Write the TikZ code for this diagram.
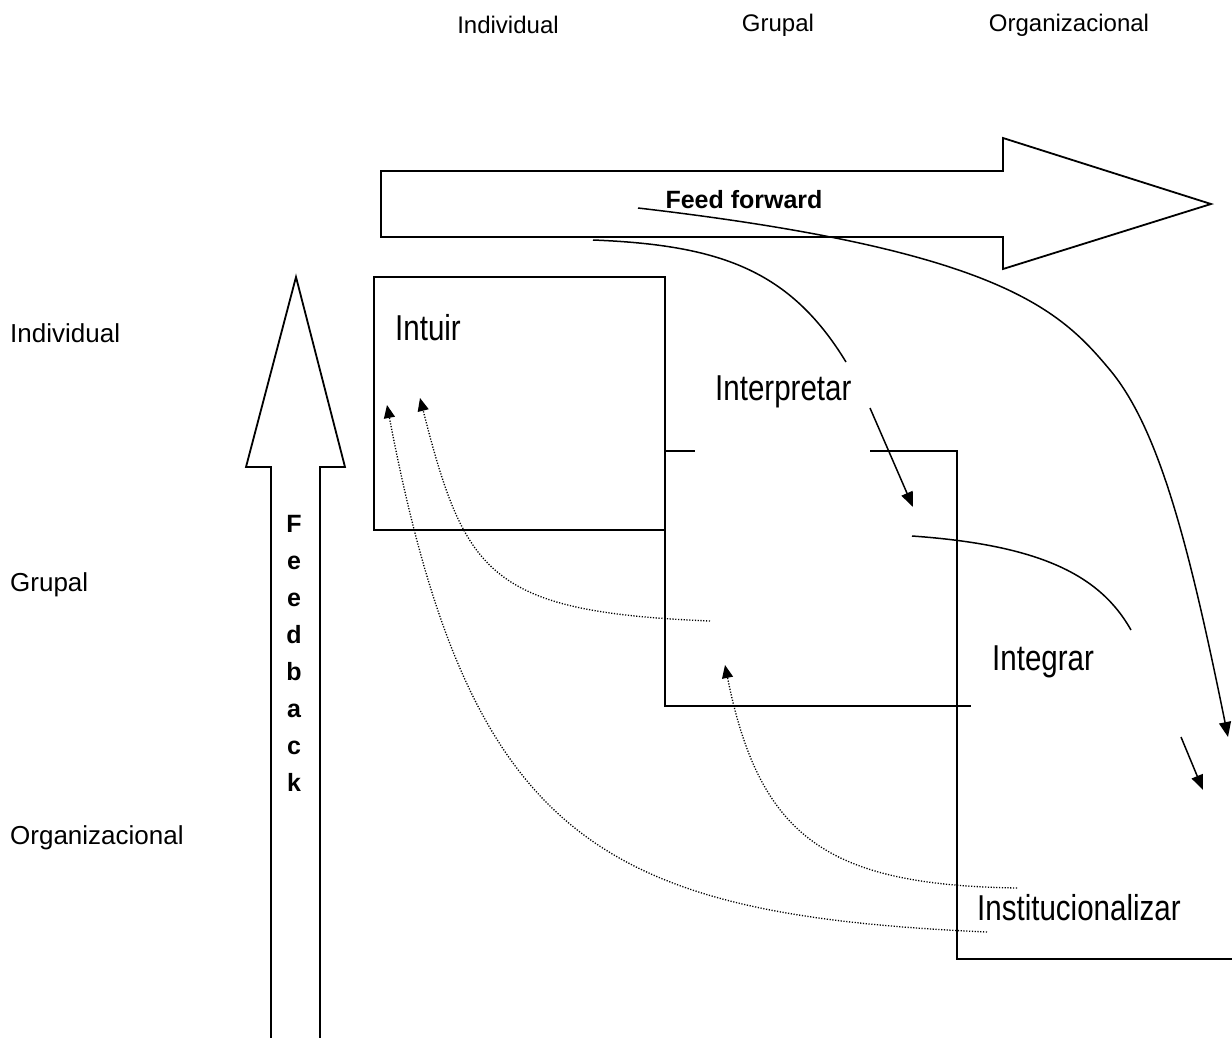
\documentclass[tikz,border=0pt]{standalone}
\usepackage{fontspec}
\setmainfont{Liberation Sans}
\newfontfamily\narrowfont[FakeStretch=0.82]{Liberation Sans}
\usetikzlibrary{arrows.meta}
\tikzset{
  boxline/.style={line width=2pt},
  flow/.style={line width=1.5pt},
  flowarrow/.style={line width=1.5pt,-{Triangle[length=15pt,width=12pt]}},
  fbarrow/.style={line width=1.3pt,dash pattern=on 1.2pt off 1.6pt,-{Triangle[length=13pt,width=11pt]}},
  bigarrow/.style={line width=1.8pt,line join=miter},
  toplabel/.style={font=\fontsize{24}{24}\selectfont,inner sep=0pt},
  sidelabel/.style={font=\fontsize{26}{26}\selectfont,inner sep=0pt,anchor=west},
  stagelabel/.style={font=\narrowfont\fontsize{36}{36}\selectfont,inner sep=0pt,anchor=west},
  boldlabel/.style={font=\bfseries\fontsize{25}{25}\selectfont,inner sep=0pt}
}
\begin{document}
\begin{tikzpicture}[x=1pt,y=-1pt]
\useasboundingbox (0,0) rectangle (1232,1037);

% level labels
\node[toplabel] (tind) at (508,25) {Individual};
\node[toplabel] (tgru) at (778,25) {Grupal};
\node[toplabel] (torg) at (1069,25) {Organizacional};
\node[sidelabel] (lind) at (10,333) {Individual};
\node[sidelabel] (lgru) at (10,585) {Grupal};
\node[sidelabel] (lorg) at (10,838) {Organizacional};

% big feed forward arrow
\draw[bigarrow] (381,171) -- (1003,171) -- (1003,138) -- (1211,204) -- (1003,269) -- (1003,237) -- (381,237) -- cycle;
\node[boldlabel] (ff) at (744,200) {Feed forward};

% big feedback arrow
\draw[bigarrow] (271,1045) -- (271,467) -- (246,467) -- (296,277) -- (345,467) -- (320,467) -- (320,1045);
\node[boldlabel,align=center,font=\bfseries\fontsize{25}{37}\selectfont] (fb) at (294,653) {F\\e\\e\\d\\b\\a\\c\\k};

% boxes
\draw[boxline] (374,277) rectangle (665,530);
\draw[boxline] (665,530) -- (665,706) -- (971,706);
\draw[boxline] (665,451) -- (695,451);
\draw[boxline] (870,451) -- (957,451) -- (957,959) -- (1232,959);

% stage labels
\node[stagelabel] (intuir) at (395,328) {Intuir};
\node[stagelabel] (interp) at (715,392) {Interpretar};
\node[stagelabel] (integ) at (992,662) {Integrar};
\node[stagelabel] (instit) at (977,908) {Institucionalizar};

% connector end points
\coordinate (c1s) at (593,240);
\coordinate (c1e) at (846,362);
\coordinate (a2s) at (870,408);
\coordinate (a2e) at (913,507);
\coordinate (c3s) at (912,536);
\coordinate (c3e) at (1131,630);
\coordinate (a4s) at (1181,737);
\coordinate (a4e) at (1203,790);
\coordinate (lfs) at (638,208);
\coordinate (lfm) at (1110,370);
\coordinate (lfe) at (1228,737);
\coordinate (dAs) at (710,621);
\coordinate (dAe) at (420,398);
\coordinate (dBs) at (987,932);
\coordinate (dBe) at (387,405);
\coordinate (dCs) at (1017,888);
\coordinate (dCe) at (725,665);

% feed forward flows
\draw[flow] (c1s) .. controls (720,245) and (790,270) .. (c1e);
\draw[flowarrow] (a2s) -- (a2e);
\draw[flow] (c3s) .. controls (1040,545) and (1100,575) .. (c3e);
\draw[flowarrow] (a4s) -- (a4e);
\draw[flowarrow] (lfs) .. controls (1000,250) and (1060,310) .. (lfm) .. controls (1160,430) and (1190,550) .. (lfe);

% feedback flows
\draw[fbarrow] (dAs) .. controls (490,612) and (465,575) .. (dAe);
\draw[fbarrow] (dBs) .. controls (600,915) and (470,840) .. (dBe);
\draw[fbarrow] (dCs) .. controls (830,885) and (760,840) .. (dCe);
\end{tikzpicture}
\end{document}
